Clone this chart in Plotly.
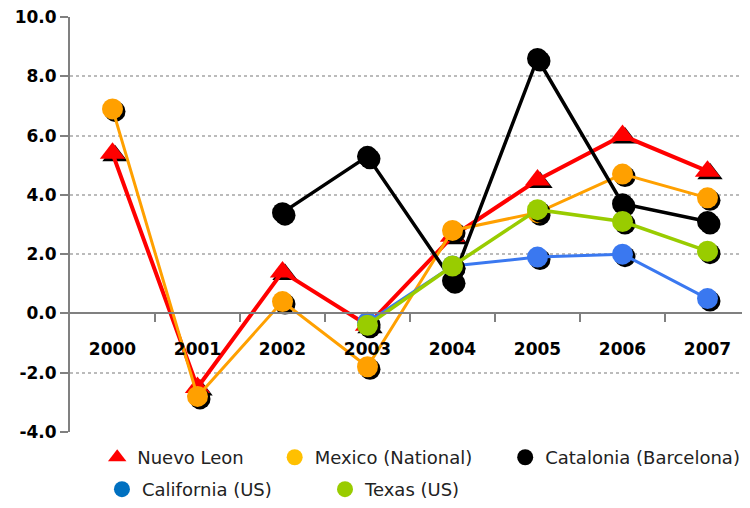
import plotly.graph_objects as go

years = ["2000", "2001", "2002", "2003", "2004", "2005", "2006", "2007"]
nuevo_leon = [5.4, -2.5, 1.4, -0.4, 2.6, 4.5, 6.0, 4.8]
mexico = [6.9, -2.8, 0.4, -1.8, 2.8, 3.4, 4.7, 3.9]
catalonia = [None, None, 3.4, 5.3, 1.1, 8.6, 3.7, 3.1]
california = [None, None, None, -0.3, 1.6, 1.9, 2.0, 0.5]
texas = [None, None, None, -0.4, 1.6, 3.5, 3.1, 2.1]
y_ticks = [-4, -2, 0, 2, 4, 6, 8, 10]
y_tick_labels = ["-4.0", "-2.0", "0.0", "2.0", "4.0", "6.0", "8.0", "10.0"]

series = [
    ("Nuevo Leon", nuevo_leon, "#FF0000", "#FF0000", "triangle-up", 4),
    ("Mexico (National)", mexico, "#FFA000", "#FFC000", "circle", 3),
    ("Catalonia (Barcelona)", catalonia, "#000000", "#000000", "circle", 3.5),
    ("California (US)", california, "#3A78F0", "#0070C0", "circle", 3),
    ("Texas (US)", texas, "#99CC00", "#99CC00", "circle", 3.5),
]
# legend slot for each series: (legend id, x, y) in plot-area fractions
legend_slots = [
    ("legend", 0.040, -0.017),
    ("legend2", 0.301, -0.017),
    ("legend3", 0.640, -0.017),
    ("legend4", 0.047, -0.094),
    ("legend5", 0.375, -0.094),
]

# layout geometry (page body has an 8px margin, compensated here)
W, H = 742, 500
ML, MR, MT, MB = 62, 0, 9, 76
YMIN, YMAX = -4, 10
XMIN, XMAX = -0.5, 7.5
px_x = (W - ML - MR) / (XMAX - XMIN)
px_y = (H - MT - MB) / (YMAX - YMIN)
SH = 2.5  # shadow offset in px
dx, dy = SH / px_x, SH / px_y

idx = list(range(len(years)))
fig = go.Figure()
for name, vals, lc, legc, sym, lw in series:
    size = 22 if sym == "triangle-up" else 21
    # shadow
    fig.add_trace(go.Scatter(
        x=[i + dx for i in idx], y=[v - dy if v is not None else None for v in vals],
        mode="markers", marker=dict(symbol=sym, size=size, color="#000000"),
        showlegend=False, hoverinfo="skip"))
    fig.add_trace(go.Scatter(
        x=idx, y=vals, mode="lines+markers", name=name,
        line=dict(color=lc, width=lw),
        marker=dict(symbol=sym, size=size, color=lc),
        showlegend=False, connectgaps=False))

legfont = dict(family="DejaVu Sans", size=18, color="#222222")
legends = {}
for (name, vals, lc, legc, sym, lw), (lg, lx, ly) in zip(series, legend_slots):
    fig.add_trace(go.Scatter(
        x=[None], y=[None], mode="markers", name=name, legend=lg,
        marker=dict(symbol=sym, size=16, color=legc)))
    legends[lg] = dict(orientation="h", x=lx, y=ly, xanchor="left", yanchor="top",
                       font=legfont, itemsizing="trace", bgcolor="rgba(0,0,0,0)")

zero_pos = (0 - YMIN) / (YMAX - YMIN)

fig.update_layout(
    width=W, height=H,
    margin=dict(l=ML, r=MR, t=MT, b=MB, autoexpand=False),
    plot_bgcolor="white", paper_bgcolor="white",
    showlegend=True,
    xaxis=dict(
        range=[XMIN, XMAX], tickvals=idx, ticktext=years,
        showgrid=False, zeroline=False,
        anchor="free", position=zero_pos,
        showline=True, linecolor="#808080", linewidth=2,
        ticks="", ticklabelstandoff=20,
        tickfont=dict(family="DejaVu Sans", size=17, color="#000000", weight="bold"),
        minor=dict(tickvals=[i + 0.5 for i in idx[:-1]], ticks="outside",
                   ticklen=8, tickcolor="#808080", tickwidth=2, showgrid=False),
    ),
    yaxis=dict(
        range=[YMIN, YMAX], tickvals=y_ticks, ticktext=y_tick_labels,
        showgrid=True, gridcolor="#BBBBBB", griddash="dot", gridwidth=1.5,
        zeroline=False, ticklabeloverflow="allow",
        showline=True, linecolor="#808080", linewidth=2,
        ticks="outside", ticklen=8, tickcolor="#808080", tickwidth=2,
        tickfont=dict(family="DejaVu Sans", size=17, color="#000000", weight="bold"),
    ),
    **legends,
)

fig.write_html("out.html")
